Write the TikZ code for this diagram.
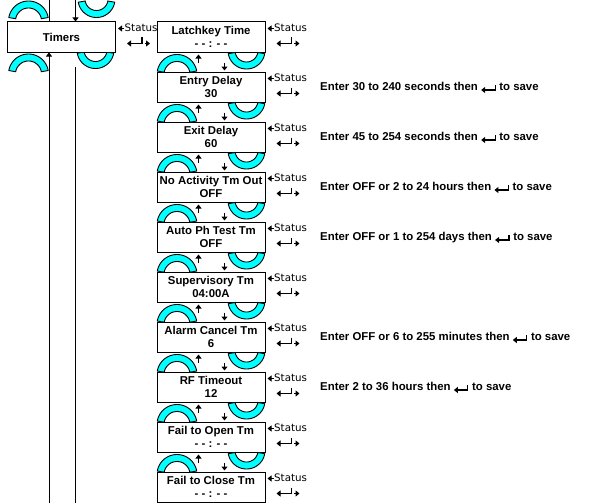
\documentclass[tikz,border=0pt]{standalone}
\usepackage{fontspec}
\setmainfont{Liberation Sans}
\newfontfamily\statfont{DejaVu Sans}
\usetikzlibrary{arrows.meta,calc}
\definecolor{bandcyan}{RGB}{0,255,255}
\tikzset{
  box/.style={draw=black, fill=white, line width=1pt, minimum width=108pt, minimum height=30pt,
    inner sep=0pt, align=center, font=\fontsize{11.4}{13}\selectfont\bfseries},
  desc/.style={inner sep=0pt, anchor=west, text height=8.4pt, text depth=2.4pt,
    font=\fontsize{11.4}{13}\selectfont\bfseries},
  stat/.style={inner sep=0pt, anchor=west, text height=7.5pt, text depth=2pt, font=\statfont\fontsize{10.3}{11}\selectfont},
  band/.style={draw=black, fill=bandcyan, line width=0.9pt},
  plain/.style={line width=1pt},
  tip/.style={-{Triangle[length=4pt,width=6pt]}, line width=1pt},
  capband/.pic={\draw[band] plot[domain=190:350,samples=40] ({20*cos(\x)},{20*sin(\x)})
      -- plot[domain=350:190,samples=40] ({13*cos(\x)},{13*sin(\x)}) -- cycle;},
  cupband/.pic={\draw[band] plot[domain=10:170,samples=40] ({18.5*cos(\x)},{18.5*sin(\x)})
      -- plot[domain=170:10,samples=40] ({11.5*cos(\x)},{11.5*sin(\x)}) -- cycle;},
  retsym/.pic={\draw[tip,line width=1.2pt] (14,-5) -- (14,0) -- (0,0);},
  statgrp/.pic={
    \draw[tip] (8,7) -- (2,7);
    \node[stat] at (8.5,7) {Status};
    \draw[tip,line width=1.2pt] (26,16) -- (26,22) -- (11,22);
    \draw[tip] (28.5,22) -- (34,22);
  },
}
\newcommand\mydescr[3]{%
  \node[desc] (#1) at (320,0 |- #2) {#3};
  \pic at ($(#1.east)+(3,3)$) {retsym};
  \node[desc] (#1s) at ($(#1.east)+(21,0)$) {to save};
}
\begin{document}
\begin{tikzpicture}[x=1pt,y=-1pt]
\useasboundingbox[fill=white] (0,0) rectangle (593,503);

% Timers bands
\pic at (28.5,21) {capband};
\pic at (96.5,-1) {cupband};
\pic at (28.5,74) {capband};
\pic at (95.5,50) {cupband};

\node[box] (timers) at (61.5,37) {Timers};

\coordinate (lt) at (49,0);
\coordinate (rt) at (75.5,0);
\coordinate (lb) at (49,503);
\coordinate (rm) at (75,67);
\coordinate (rb) at (75,503);
\draw[plain] (lt) -- (lt |- timers.north);
\draw[tip] (rt) -- (rt |- timers.north);
\draw[tip] (lb) -- (lb |- timers.south);
\draw[plain] (rm) -- (rb);
\pic at (timers.north east) {statgrp};

% menu boxes
\foreach \i/\a/\b in {1/Latchkey Time/{- - : - -},
  2/Entry Delay/30, 3/Exit Delay/60, 4/No Activity Tm Out/OFF,
  5/Auto Ph Test Tm/OFF, 6/Supervisory Tm/04:00A, 7/Alarm Cancel Tm/6,
  8/RF Timeout/12, 9/Fail to Open Tm/{- - : - -}, 10/Fail to Close Tm/{- - : - -}}{
  \node[box] (b\i) at (211,{37+50*(\i-1)}) {\a\\\b};
  \pic at (b\i.north east) {statgrp};
}
\foreach \i in {1,...,9}{
  \pic at ($(b\i.south west)+(20.5,22)$) {capband};
  \pic at ($(b\i.south west)+(90,-2)$) {cupband};
  \draw[tip] ($(b\i.south west)+(42,10)$) -- ++(0,-8);
  \draw[tip] ($(b\i.south west)+(68,10)$) -- ++(0,8);
}

\mydescr{d2}{b2}{Enter 30 to 240 seconds then}
\mydescr{d3}{b3}{Enter 45 to 254 seconds then}
\mydescr{d4}{b4}{Enter OFF or 2 to 24 hours then}
\mydescr{d5}{b5}{Enter OFF or 1 to 254 days then}
\mydescr{d7}{b7}{Enter OFF or 6 to 255 minutes then}
\mydescr{d8}{b8}{Enter 2 to 36 hours then}
\end{tikzpicture}
\end{document}
